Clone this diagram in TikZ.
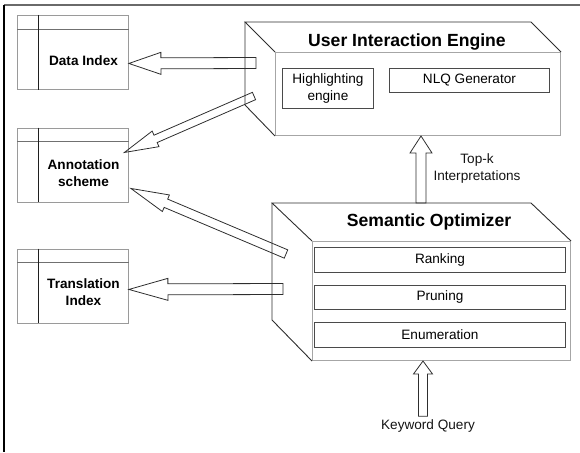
\documentclass[tikz,border=0pt]{standalone}
\usepackage{fontspec}
\setmainfont{Liberation Sans}
\usetikzlibrary{calc}

\definecolor{framegray}{HTML}{6A6A6A}
\definecolor{facegray}{HTML}{A6A6A6}
\definecolor{edgedark}{HTML}{2E2E2E}
\definecolor{bargray}{HTML}{4A4A4A}
\definecolor{idxgray}{HTML}{9A9A9A}
\definecolor{idxhead}{HTML}{707070}

% Hollow block arrow from #1 to #2:
% #3 shaft half width, #4 head half width, #5 head length, #6 name prefix
\newcommand{\blkarrow}[6]{%
  \coordinate (#6-hb) at ($(#2)!#5!(#1)$);
  \draw[blockarr]
    ($(#1)!#3!90:(#2)$) -- ($(#6-hb)!#3!90:(#2)$) -- ($(#6-hb)!#4!90:(#2)$)
    -- (#2)
    -- ($(#6-hb)!#4!-90:(#2)$) -- ($(#6-hb)!#3!-90:(#2)$) -- ($(#1)!#3!-90:(#2)$)
    -- cycle;}

\begin{document}
\begin{tikzpicture}[x=1pt,y=-1pt,
  reg/.style={font=\fontsize{13.6}{17}\selectfont, text=black!92, inner sep=0pt},
  idxlabel/.style={font=\fontsize{13.6}{17}\selectfont\bfseries, align=center, inner sep=0pt},
  titletext/.style={font=\fontsize{17.6}{21}\selectfont\bfseries, inner sep=0pt},
  idxbox/.style={draw=idxgray, line width=0.9pt, inner sep=0pt, anchor=north west,
                 minimum width=111pt, minimum height=74pt},
  idxline/.style={draw=idxhead, line width=0.9pt},
  idxcol/.style={draw=black!88, line width=0.9pt},
  face/.style={draw=facegray, line width=1pt, inner sep=0pt, anchor=north west},
  depthedge/.style={draw=edgedark, line width=0.9pt},
  innerbox/.style={draw=bargray, line width=0.9pt, inner sep=0pt, anchor=north west,
                   font=\fontsize{13.6}{17}\selectfont, align=center},
  blockarr/.style={draw=edgedark, line width=0.8pt, line join=miter}]

\useasboundingbox (0,0) rectangle (580,452);

% page frame
\draw[framegray, line width=1.3pt] (4,5) -- (580,5);
\draw[black, line width=1.4pt] (4,5) -- (4,452);

% ---------- index tables on the left ----------
\node[idxbox] (dataidx) at (17,15) {};
\node[idxbox] (annot) at (17,127.5) {};
\node[idxbox] (transidx) at (17,248.5) {};
\foreach \b in {dataidx,annot,transidx}{
  \draw[idxline] ([yshift=-14pt]\b.north west) -- ([yshift=-14pt]\b.north east);
  \draw[idxcol] ([xshift=21pt]\b.north west) -- ([xshift=21pt]\b.south west);
}
\node[idxlabel] (dataidx-l) at (83.5,61) {Data Index};
\node[idxlabel] (annot-l) at (83.5,173) {Annotation\\scheme};
\node[idxlabel] (transidx-l) at (83.5,292.5) {Translation\\Index};

% ---------- User Interaction Engine (3-D box) ----------
\node[face, minimum width=285pt, minimum height=83pt] (uie) at (275,52) {};
\coordinate (uie-bnw) at ([shift={(-30,-30)}]uie.north west);
\coordinate (uie-bne) at ([shift={(-30,-30)}]uie.north east);
\coordinate (uie-bsw) at ([shift={(-30,-31)}]uie.south west);
\draw[depthedge] (uie.north west) -- (uie-bnw) -- (uie-bne) -- (uie.north east);
\draw[depthedge] (uie-bnw) -- (uie-bsw) -- (uie.south west);
\node[titletext, anchor=base] (uie-title) at (407,46.5) {User Interaction Engine};
\node[innerbox, minimum width=91pt, minimum height=40pt] (hl) at (282,68)
  {Highlighting\\engine};
\node[innerbox, minimum width=160pt, minimum height=24pt] (nlq) at (389,68)
  {NLQ Generator};

% ---------- Semantic Optimizer (3-D box) ----------
\node[face, minimum width=258pt, minimum height=119pt] (so) at (312,241) {};
\coordinate (so-bnw) at ([shift={(-40,-38)}]so.north west);
\coordinate (so-bne) at ([shift={(-40,-38)}]so.north east);
\coordinate (so-bsw) at ([shift={(-40,-41)}]so.south west);
\draw[depthedge] (so.north west) -- (so-bnw) -- (so-bne) -- (so.north east);
\draw[depthedge] (so-bnw) -- (so-bsw) -- (so.south west);
\node[titletext, anchor=base] (so-title) at (429,226.5) {Semantic Optimizer};
\node[innerbox, minimum width=251pt, minimum height=25pt] (rank) at (314,247) {Ranking};
\node[innerbox, minimum width=251pt, minimum height=24pt] (prune) at (314,285) {Pruning};
\node[innerbox, minimum width=251pt, minimum height=25pt] (enum) at (314,322) {Enumeration};

% ---------- labels ----------
\node[reg, align=center] (topk) at (477,168) {Top-k\\Interpretations};
\node[reg, anchor=base] (kq) at (428,429.3) {Keyword Query};

% ---------- block arrows ----------
\coordinate (uie-t1) at ([shift={(-19,11)}]uie.north west);
\coordinate (dataidx-in) at ([yshift=-11pt]dataidx.east);
\blkarrow{uie-t1}{dataidx-in}{5.5pt}{11pt}{32pt}{a1}

\coordinate (uie-t2) at ([shift={(-21,44)}]uie.north west);
\coordinate (annot-in1) at ([shift={(-4.5,-12.5)}]annot.east);
\blkarrow{uie-t2}{annot-in1}{4pt}{8.5pt}{34pt}{a2}

\coordinate (so-t1) at ([shift={(-26,13)}]so.north west);
\coordinate (annot-in2) at ([shift={(2,23.5)}]annot.east);
\blkarrow{so-t1}{annot-in2}{4.5pt}{9pt}{38pt}{a3}

\coordinate (so-t2) at ([shift={(-29,48)}]so.north west);
\coordinate (trans-in) at ([yshift=-3.5pt]transidx.east);
\blkarrow{so-t2}{trans-in}{5.5pt}{11pt}{39pt}{a4}

\coordinate (topk-tail) at ([xshift=149pt]so-bnw);
\coordinate (topk-tip) at (topk-tail |- uie.south);
\blkarrow{topk-tail}{topk-tip}{5pt}{11pt}{17pt}{a5}

\coordinate (kq-tail) at ([shift={(-5,-3)}]kq.north);
\coordinate (kq-tip) at (kq-tail |- so.south);
\blkarrow{kq-tail}{kq-tip}{4.5pt}{9.5pt}{13pt}{a6}

\end{tikzpicture}
\end{document}
